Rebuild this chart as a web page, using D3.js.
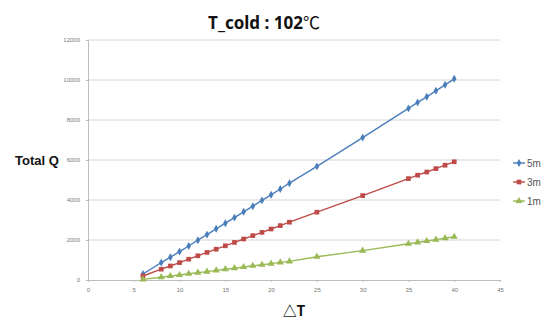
<!DOCTYPE html>
<html>
<head>
<meta charset="utf-8">
<script src="https://cdn.jsdelivr.net/npm/d3@7"></script>
<style>
  body { margin: 0; background: #fff; }
  svg { display: block; font-family: "Liberation Sans", Arial, sans-serif; }
</style>
</head>
<body>
<div id="app"></div>
<script>
const deltaT = [6, 8, 9, 10, 11, 12, 13, 14, 15, 16, 17, 18, 19, 20, 21, 22, 25, 30, 35, 36, 37, 38, 39, 40];
const q5m = [300, 870, 1140, 1420, 1700, 1990, 2270, 2560, 2840, 3120, 3410, 3690, 3980, 4260, 4550, 4840, 5680, 7120, 8580, 8880, 9160, 9460, 9760, 10060];
const q3m = [200, 540, 700, 870, 1040, 1210, 1380, 1540, 1710, 1880, 2050, 2220, 2380, 2550, 2720, 2890, 3390, 4220, 5070, 5240, 5400, 5570, 5740, 5910];
const q1m = [30, 140, 200, 250, 310, 370, 420, 480, 540, 590, 650, 710, 760, 820, 880, 930, 1160, 1470, 1810, 1880, 1950, 2020, 2090, 2160];
const xTicks = [0, 5, 10, 15, 20, 25, 30, 35, 40, 45];
const yTicks = [0, 2000, 4000, 6000, 8000, 10000, 12000];

const series = [
  { name: '5m', values: q5m, color: '#4A7EBB', symbol: d3.symbolDiamond, size: 18 },
  { name: '3m', values: q3m, color: '#BE4B48', symbol: d3.symbolSquare, size: 22 },
  { name: '1m', values: q1m, color: '#98B954', symbol: d3.symbolTriangle, size: 22 }
];

const width = 548, height = 320;
const margin = { top: 40, right: 48, bottom: 40, left: 88 };

const svg = d3.select('#app').append('svg')
  .attr('width', width)
  .attr('height', height);

const x = d3.scaleLinear().domain([0, 45]).range([margin.left, width - margin.right]);
const y = d3.scaleLinear().domain([0, 12000]).range([height - margin.bottom, margin.top]);

// gridlines
svg.append('g')
  .selectAll('line')
  .data(yTicks.filter(d => d > 0))
  .join('line')
  .attr('x1', x(0)).attr('x2', x(45))
  .attr('y1', d => y(d)).attr('y2', d => y(d))
  .attr('stroke', '#d4d4d4').attr('stroke-width', 1);

// axes
const xAxis = svg.append('g')
  .attr('transform', `translate(0,${y(0)})`)
  .call(d3.axisBottom(x).tickValues(xTicks).tickSize(2).tickPadding(6));
const yAxis = svg.append('g')
  .attr('transform', `translate(${x(0)},0)`)
  .call(d3.axisLeft(y).tickValues(yTicks).tickSize(2).tickPadding(6).tickFormat(d3.format('d')));

[xAxis, yAxis].forEach(g => {
  g.select('.domain').attr('stroke', '#bdbdbd');
  g.selectAll('.tick line').attr('stroke', '#bdbdbd');
  g.selectAll('.tick text').attr('fill', '#777').style('font-size', '6px');
});

// lines and markers
const line = d3.line().x((d, i) => x(deltaT[i])).y(d => y(d));

series.forEach(s => {
  svg.append('path')
    .datum(s.values)
    .attr('fill', 'none')
    .attr('stroke', s.color)
    .attr('stroke-width', 1.4)
    .attr('d', line);
  svg.append('g')
    .selectAll('path')
    .data(s.values)
    .join('path')
    .attr('transform', (d, i) => `translate(${x(deltaT[i])},${y(d)})`)
    .attr('d', d3.symbol(s.symbol, s.size))
    .attr('fill', s.color);
});

// legend
const legend = svg.append('g').attr('transform', 'translate(513,163)');
series.forEach((s, i) => {
  const g = legend.append('g').attr('transform', `translate(0,${i * 19})`);
  g.append('line').attr('x1', 0).attr('x2', 12).attr('stroke', s.color).attr('stroke-width', 1.4);
  g.append('path').attr('transform', 'translate(6,0)').attr('d', d3.symbol(s.symbol, s.size)).attr('fill', s.color);
  g.append('text').attr('x', 14).attr('y', 4).text(s.name)
    .style('font-size', '10px').attr('fill', '#555');
});

// titles
const title = svg.append('text')
  .attr('x', 264).attr('y', 29)
  .attr('text-anchor', 'middle')
  .style('font-family', '"Noto Sans", sans-serif')
  .style('font-size', '17px').style('font-weight', 'bold')
  .attr('fill', '#111');
title.append('tspan').text('T_cold : 102');
title.append('tspan')
  .style('font-family', '"Noto Sans CJK KR", sans-serif')
  .style('font-weight', 'normal')
  .text('℃');

svg.append('text')
  .attr('x', 15).attr('y', 165)
  .style('font-size', '13px').style('font-weight', 'bold')
  .attr('fill', '#111')
  .text('Total Q');

svg.append('text')
  .attr('x', 294).attr('y', 316)
  .attr('text-anchor', 'middle')
  .style('font-family', '"Noto Sans CJK KR", sans-serif')
  .style('font-size', '14px').style('font-weight', 'bold')
  .attr('fill', '#111')
  .text('△T');
</script>
</body>
</html>
